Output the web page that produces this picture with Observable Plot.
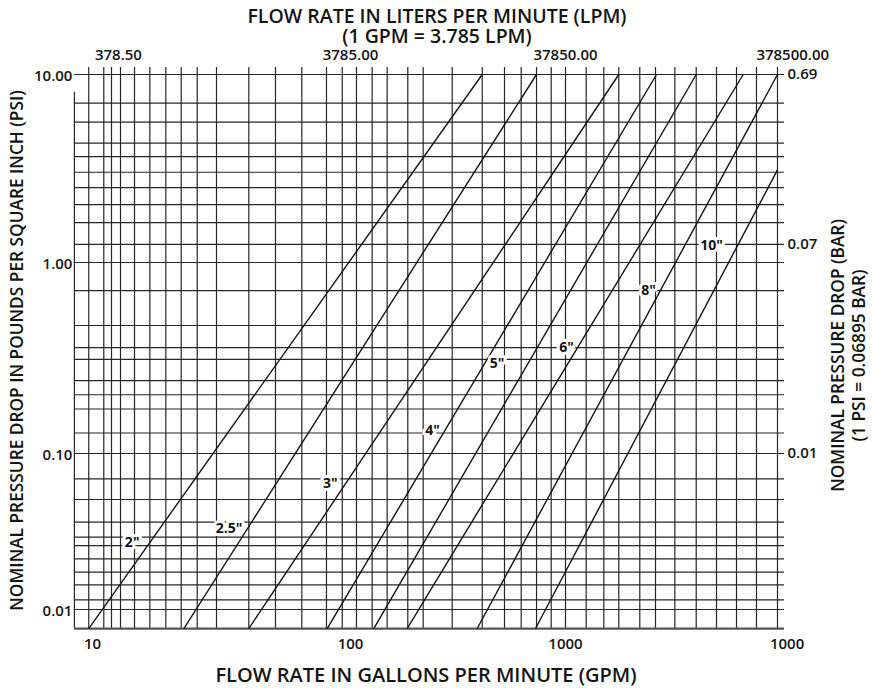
<!DOCTYPE html>
<html><head><meta charset="utf-8">
<script src="https://cdn.jsdelivr.net/npm/d3@7"></script>
<script src="https://cdn.jsdelivr.net/npm/@observablehq/plot@0.6"></script>
<style>html,body{margin:0;padding:0;background:#fff}#chart svg{display:block}</style>
</head><body><div id="chart"></div>
<script>
// Vertical grid lines (GPM)
const xGridGPM = [9.67, 11.06, 11.85, 12.84, 14.55, 16.68, 19.24, 22.07, 25.46, 30.24, 40.35, 51.2, 64.75, 80.7, 92.9, 106.6, 126.1, 148.1, 184.7, 217.8, 297.2, 410, 520.3, 622.2, 733.3, 858, 1000, 1252, 1516, 1784, 2241, 2658, 3279, 4136, 5155, 6407, 7959, 10000];
// Horizontal grid lines (PSI)
const yGridPSI = [10, 7.04, 5.58, 4.31, 3.66, 3.02, 2.50, 2.03, 1.63, 1.25, 1, 0.713, 0.468, 0.358, 0.311, 0.241, 0.203, 0.171, 0.128, 0.1, 0.0688, 0.0507, 0.0363, 0.0291, 0.0257, 0.0211, 0.01734, 0.0144, 0.01154, 0.01];
const xLeftGPM = 8.51, xRightGPM = 10000;
const yTopPSI = 10, yBottomPSI = 0.00755, yLeftBorderTopPSI = 8.05;

// Pipe size lines
const sizes = ['2"', '2.5"', '3"', '4"', '5"', '6"', '8"', '10"'];
const startGPM = [9.67, 22.6, 40.35, 81.2, 128.3, 183.5, 388.4, 725.4];
const startPSI = [0.00755, 0.00755, 0.00755, 0.00755, 0.00755, 0.00755, 0.00755, 0.00755];
const endGPM = [410, 733, 1784, 2687, 4136, 6891, 10000, 10000];
const endPSI = [10, 10, 10, 10, 10, 10, 10, 3.11];
const labelGPM = [14.25, 33.8, 83.6, 240.7, 480, 1011, 2464, 4883];
const labelPSI = [0.027, 0.0329, 0.0639, 0.132, 0.296, 0.359, 0.713, 1.23];

// Axis tick labels
const bottomTickGPM = [10, 100, 1000, 11100];
const bottomTickLabels = ["10", "100", "1000", "1000"];
const topTickGPM = [12.6, 100, 1000, 11800];
const topTickLabels = ["378.50", "3785.00", "37850.00", "378500.00"];
const leftTickPSI = [10, 1, 0.1, 0.01];
const leftTickLabels = ["10.00", "1.00", "0.10", "0.01"];
const rightTickPSI = [10, 1.257, 0.1];
const rightTickLabels = ["0.69", "0.07", "0.01"];

const titleTop1 = "FLOW RATE IN LITERS PER MINUTE (LPM)";
const titleTop2 = "(1 GPM = 3.785 LPM)";
const titleBottom = "FLOW RATE IN GALLONS PER MINUTE (GPM)";
const titleLeft = "NOMINAL PRESSURE DROP IN POUNDS PER SQUARE INCH (PSI)";
const titleRight = "NOMINAL PRESSURE DROP (BAR)\n(1 PSI = 0.06895 BAR)";

const pipes = sizes.map((s, i) => ({size: s, x1: startGPM[i], y1: startPSI[i], x2: endGPM[i], y2: endPSI[i], lx: labelGPM[i], ly: labelPSI[i]}));
const bottomTicks = bottomTickGPM.map((v, i) => ({v, t: bottomTickLabels[i]}));
const topTicks = topTickGPM.map((v, i) => ({v, t: topTickLabels[i]}));
const leftTicks = leftTickPSI.map((v, i) => ({v, t: leftTickLabels[i]}));
const rightTicks = rightTickPSI.map((v, i) => ({v, t: rightTickLabels[i]}));

const FONT = "'Open Sans', 'DejaVu Sans', sans-serif";
const INK = "#141414";
const GRID = "#262626";

const chart = Plot.plot({
  width: 873,
  height: 688,
  marginLeft: 74, marginRight: 96, marginTop: 74, marginBottom: 60,
  style: {fontFamily: FONT, background: "#fff", color: INK},
  x: {type: "log", domain: [10, 100, 1000, 10000], range: [92, 350, 565, 777], axis: null},
  y: {type: "log", domain: [0.01, 0.1, 1, 10], range: [609, 453, 262, 74], axis: null},
  marks: [
    Plot.ruleX(xGridGPM, {y1: yTopPSI, y2: yBottomPSI, insetTop: -7, stroke: GRID, strokeWidth: 1.2}),
    Plot.ruleX([xLeftGPM], {y1: yLeftBorderTopPSI, y2: yBottomPSI, stroke: GRID, strokeWidth: 1.2}),
    Plot.ruleY(yGridPSI, {x1: xLeftGPM, x2: xRightGPM, insetRight: -7, stroke: GRID, strokeWidth: 1.2}),
    Plot.ruleY([yBottomPSI], {x1: xLeftGPM, x2: xRightGPM, insetRight: -7, stroke: "#555", strokeWidth: 2.2}),
    Plot.link(pipes, {x1: "x1", y1: "y1", x2: "x2", y2: "y2", stroke: INK, strokeWidth: 1.4}),
    Plot.text(pipes, {x: "lx", y: "ly", text: "size", fontSize: 14, fontWeight: 700, fill: INK, stroke: "white", strokeWidth: 6}),
    Plot.text(bottomTicks, {x: "v", y: yBottomPSI, text: "t", dy: 16, fontSize: 15, fontWeight: 600, fill: INK}),
    Plot.text(topTicks, {x: "v", y: yTopPSI, text: "t", dy: -19, fontSize: 15, fontWeight: 600, fill: INK}),
    Plot.text(leftTicks, {x: xLeftGPM, y: "v", text: "t", dx: -2, dy: 2, textAnchor: "end", fontSize: 15, fontWeight: 600, fill: INK}),
    Plot.text(rightTicks, {x: xRightGPM, y: "v", text: "t", dx: 10, textAnchor: "start", fontSize: 15, fontWeight: 600, fill: INK}),
    Plot.text([titleTop1], {frameAnchor: "top", text: d => d, dx: 11, dy: -58, lineAnchor: "middle", textAnchor: "middle", fontSize: 19.5, fontWeight: 600, fill: INK}),
    Plot.text([titleTop2], {frameAnchor: "top", text: d => d, dx: 11, dy: -38, lineAnchor: "middle", textAnchor: "middle", fontSize: 19.5, fontWeight: 600, fill: INK}),
    Plot.text([titleBottom], {frameAnchor: "bottom", text: d => d, dx: 0, dy: 53, textAnchor: "middle", fontSize: 20, fontWeight: 600, fill: INK}),
    Plot.text([titleLeft], {frameAnchor: "left", text: d => d, dx: -57, dy: -1, rotate: -90, textAnchor: "middle", fontSize: 17.3, fontWeight: 600, fill: INK}),
    Plot.text([titleRight], {frameAnchor: "right", text: d => d, dx: 70, dy: 4, rotate: -90, textAnchor: "middle", lineAnchor: "middle", lineHeight: 1.25, fontSize: 17.3, fontWeight: 600, fill: INK})
  ]
});
document.getElementById("chart").appendChild(chart);
</script>
</body></html>
